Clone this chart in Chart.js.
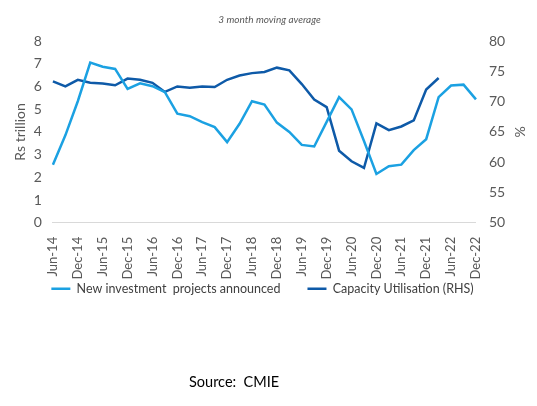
<!DOCTYPE html>
<html>
<head>
<meta charset="utf-8">
<script src="https://cdn.jsdelivr.net/npm/chart.js@4.4.1/dist/chart.umd.min.js"></script>
<style>
  html, body { margin: 0; padding: 0; background: #fff; }
  #wrap { position: relative; width: 537px; height: 406px; }
  #source {
    position: absolute; left: 189px; top: 373px;
    font: 14.5px Lato, "Open Sans", sans-serif; color: #000;
    white-space: pre;
  }
</style>
</head>
<body>
<div id="wrap">
  <canvas id="chart" width="537" height="406"></canvas>
  <div id="source">Source:  CMIE</div>
</div>
<script>
// quarterly points, 3 month moving average
const quarters = [
  "Jun-14", "Sep-14", "Dec-14", "Mar-15", "Jun-15", "Sep-15", "Dec-15", "Mar-16",
  "Jun-16", "Sep-16", "Dec-16", "Mar-17", "Jun-17", "Sep-17", "Dec-17", "Mar-18",
  "Jun-18", "Sep-18", "Dec-18", "Mar-19", "Jun-19", "Sep-19", "Dec-19", "Mar-20",
  "Jun-20", "Sep-20", "Dec-20", "Mar-21", "Jun-21", "Sep-21", "Dec-21", "Mar-22",
  "Jun-22", "Sep-22", "Dec-22"
];

// Rs trillion (left axis)
const newInvestment = [
  2.56, 3.85, 5.35, 7.05, 6.87, 6.77, 5.89, 6.14,
  6.01, 5.75, 4.80, 4.69, 4.43, 4.21, 3.55, 4.36,
  5.35, 5.20, 4.41, 4.00, 3.43, 3.36, 4.44, 5.53,
  4.99, 3.60, 2.15, 2.49, 2.56, 3.20, 3.68, 5.53,
  6.04, 6.08, 5.43
];

// % (right axis)
const capacityUtil = [
  73.35, 72.5, 73.6, 73.1, 73.0, 72.7, 73.8, 73.6,
  73.1, 71.6, 72.5, 72.3, 72.5, 72.4, 73.6, 74.3,
  74.7, 74.9, 75.6, 75.15, 72.9, 70.35, 69.1, 61.9,
  60.15, 59.05, 66.4, 65.3, 65.9, 66.9, 72.0, 73.9,
  null, null, null
];

const FONT = "Lato, 'Open Sans', sans-serif";
const GREY = "#595959";

// legend sits closer to the axis labels (and a bit left) compared to the default layout
const legendNudge = {
  id: "legendNudge",
  afterLayout(chart) {
    const lg = chart.legend;
    lg.top -= 30;
    lg.bottom -= 30;
    lg.left -= 7;
    lg.right -= 7;
  },
};

new Chart(document.getElementById("chart"), {
  type: "line",
  data: {
    labels: quarters,
    datasets: [
      {
        label: "New investment  projects announced",
        data: newInvestment,
        yAxisID: "y",
        borderColor: "#1ba1e2",
        backgroundColor: "#1ba1e2",
        borderWidth: 2.5,
        pointRadius: 0,
        tension: 0,
      },
      {
        label: "Capacity Utilisation (RHS)",
        data: capacityUtil,
        yAxisID: "y1",
        borderColor: "#0e5aa8",
        backgroundColor: "#0e5aa8",
        borderWidth: 2.5,
        pointRadius: 0,
        tension: 0,
      },
    ],
  },
  options: {
    responsive: false,
    animation: false,
    layout: { padding: { left: 10, right: 8, bottom: 71 } },
    plugins: {
      title: {
        display: true,
        text: "3 month moving average",
        color: GREY,
        font: { family: FONT, size: 10, style: "italic", weight: "normal" },
        padding: { top: 14, bottom: 15 },
      },
      legend: {
        position: "bottom",
        labels: {
          usePointStyle: true,
          pointStyle: "line",
          pointStyleWidth: 19,
          color: "#404040",
          font: { family: FONT, size: 12.5 },
          padding: 27,
        },
      },
      tooltip: { enabled: false },
    },
    scales: {
      x: {
        grid: { display: false },
        border: { color: "#d9d9d9", width: 1 },
        ticks: {
          autoSkip: false,
          maxRotation: 90,
          minRotation: 90,
          padding: 6,
          color: GREY,
          font: { family: FONT, size: 13 },
          callback: (v, i) => (i % 2 === 0 ? quarters[i] : null),
        },
      },
      y: {
        position: "left",
        min: 0,
        max: 8,
        grid: { display: false },
        border: { display: false },
        ticks: { stepSize: 1, autoSkip: false, color: GREY, padding: 3, font: { family: FONT, size: 14 } },
        title: { display: true, text: "Rs trillion", color: GREY, font: { family: FONT, size: 14 }, padding: 2 },
      },
      y1: {
        position: "right",
        min: 50,
        max: 80,
        grid: { display: false },
        border: { display: false },
        ticks: { stepSize: 5, autoSkip: false, color: GREY, padding: 5, font: { family: FONT, size: 14 } },
        title: { display: true, text: "%", color: GREY, font: { family: FONT, size: 14 }, padding: 1 },
      },
    },
  },
  plugins: [legendNudge],
});
</script>
</body>
</html>
